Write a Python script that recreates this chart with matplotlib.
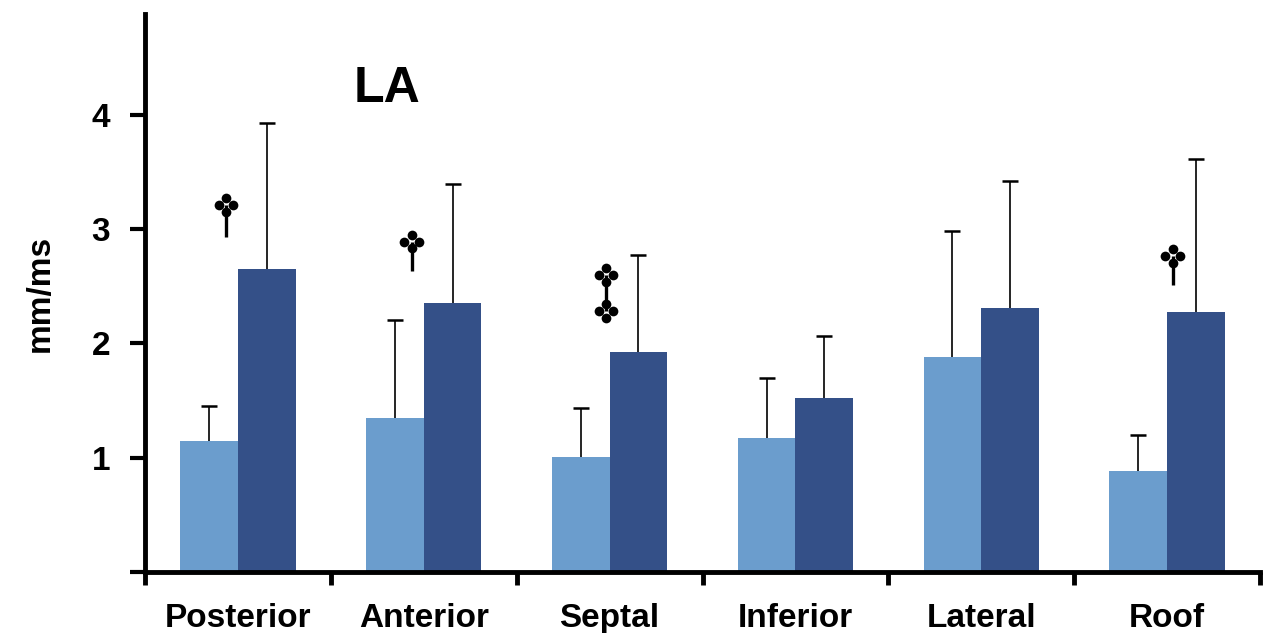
import numpy as np
import matplotlib.pyplot as plt

# regions of the left atrium
categories = ['Posterior', 'Anterior', 'Septal', 'Inferior', 'Lateral', 'Roof']

# light bars / dark bars (mm/ms) and their upper error (SD)
light_vals = [1.15, 1.35, 1.01, 1.17, 1.88, 0.88]
light_err = [0.30, 0.85, 0.42, 0.53, 1.10, 0.32]
dark_vals = [2.65, 2.35, 1.92, 1.52, 2.31, 2.27]
dark_err = [1.28, 1.04, 0.85, 0.54, 1.11, 1.34]

# significance marks: group index, kind, clover y (top), line bottom y
sig_group = [0, 1, 2, 5]
sig_kind = ['dagger', 'dagger', 'ddagger', 'dagger']
sig_dx = [-0.065, -0.065, -0.02, 0.03]
sig_top = [3.21, 2.89, 2.60, 2.765]
sig_bottom = [2.93, 2.63, 2.28, 2.51]

light_color = '#6b9dcd'
dark_color = '#345088'

plt.rcParams['font.family'] = ['Liberation Sans', 'DejaVu Sans']
plt.rcParams['font.weight'] = 'bold'

fig = plt.figure(figsize=(12.69, 6.33), dpi=100)
ax = fig.add_axes([145 / 1269, 61 / 633, 1115 / 1269, 558 / 633])

x = np.arange(len(categories))
w = 0.31
ax.bar(x - w / 2, light_vals, w, color=light_color, zorder=2)
ax.bar(x + w / 2, dark_vals, w, color=dark_color, zorder=2)

# upper-only error bars with a cap at the top
for xs, vals, errs in [(x - w / 2, light_vals, light_err), (x + w / 2, dark_vals, dark_err)]:
    tops = np.array(vals) + np.array(errs)
    ax.vlines(xs, vals, tops, color='black', lw=1.2, zorder=1)
    ax.plot(xs, tops, '_', color='black', markersize=12, markeredgewidth=1.8, zorder=1)


def clover(cx, cy):
    # four dots arranged like a club
    dx, dy = 0.039, 0.060
    ax.plot([cx, cx - dx, cx + dx, cx], [cy + dy, cy, cy, cy - dy], 'o',
            color='black', markersize=7, markeredgewidth=0, zorder=4)


for g, kind, ddx, top, bot in zip(sig_group, sig_kind, sig_dx, sig_top, sig_bottom):
    cx = g + ddx
    ax.plot([cx, cx], [top, bot], color='black', lw=2.4, solid_capstyle='butt', zorder=4)
    clover(cx, top)
    if kind == 'ddagger':
        clover(cx, bot)

ax.text(0.8, 4.22, 'LA', fontsize=36, fontweight='bold', ha='center', va='center')

ax.set_xlim(-0.5, 5.5)
ax.set_ylim(0, 4.88)
ax.set_xticks(np.arange(-0.5, 6.0, 1.0))
ax.set_xticklabels([])
ax.set_xticks(x, minor=True)
ax.set_xticklabels(categories, minor=True)
ax.tick_params(axis='x', which='minor', length=0, pad=22, labelsize=24)
ax.tick_params(axis='x', which='major', direction='out', length=9, width=3.5)
ax.set_yticks([0, 1, 2, 3, 4])
ax.set_yticklabels(['', '1', '2', '3', '4'])
ax.tick_params(axis='y', direction='out', length=11, width=3, labelsize=24, pad=14)
for lab in ax.get_xticklabels(minor=True) + ax.get_yticklabels():
    lab.set_fontweight('bold')

ax.spines['top'].set_visible(False)
ax.spines['right'].set_visible(False)
ax.spines['left'].set_linewidth(3.5)
ax.spines['bottom'].set_linewidth(3.5)
ax.set_ylabel('mm/ms', fontsize=24, fontweight='bold', labelpad=26)

fig.savefig('out.png', dpi=100)
